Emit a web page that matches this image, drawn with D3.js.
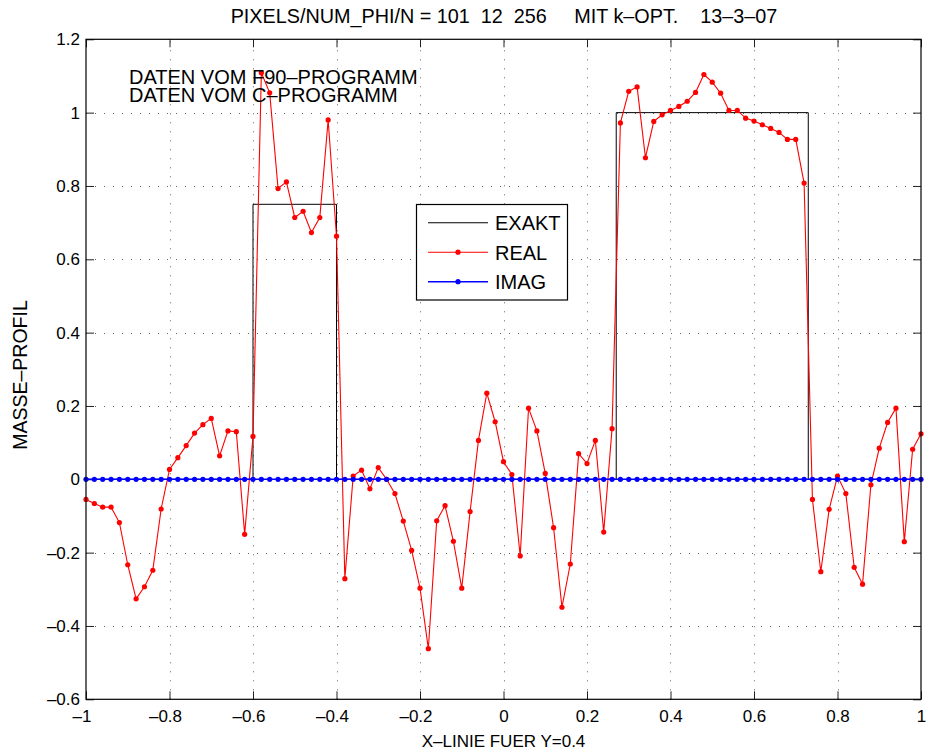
<!DOCTYPE html>
<html>
<head>
<meta charset="utf-8">
<script src="https://cdn.jsdelivr.net/npm/d3@7"></script>
<style>
  body { margin: 0; background: #fff; }
  text { font-family: "Liberation Sans", Arial, Helvetica, sans-serif; fill: #000; }
</style>
</head>
<body>
<div id="chart"></div>
<script>
// x grid of the line (101 pixels from -1 to 1)
let xValues = [
  -1.00, -0.98, -0.96, -0.94, -0.92, -0.90, -0.88, -0.86, -0.84, -0.82,
  -0.80, -0.78, -0.76, -0.74, -0.72, -0.70, -0.68, -0.66, -0.64, -0.62,
  -0.60, -0.58, -0.56, -0.54, -0.52, -0.50, -0.48, -0.46, -0.44, -0.42,
  -0.40, -0.38, -0.36, -0.34, -0.32, -0.30, -0.28, -0.26, -0.24, -0.22,
  -0.20, -0.18, -0.16, -0.14, -0.12, -0.10, -0.08, -0.06, -0.04, -0.02,
   0.00,  0.02,  0.04,  0.06,  0.08,  0.10,  0.12,  0.14,  0.16,  0.18,
   0.20,  0.22,  0.24,  0.26,  0.28,  0.30,  0.32,  0.34,  0.36,  0.38,
   0.40,  0.42,  0.44,  0.46,  0.48,  0.50,  0.52,  0.54,  0.56,  0.58,
   0.60,  0.62,  0.64,  0.66,  0.68,  0.70,  0.72,  0.74,  0.76,  0.78,
   0.80,  0.82,  0.84,  0.86,  0.88,  0.90,  0.92,  0.94,  0.96,  0.98,
   1.00
]
let realValues = [
  -0.055, -0.066, -0.076, -0.076, -0.118, -0.233, -0.326, -0.293, -0.248, -0.081,
   0.027,  0.059,  0.092,  0.126,  0.149,  0.166,  0.064,  0.132,  0.130, -0.150,
   0.117,  1.109,  1.054,  0.793,  0.811,  0.714,  0.731,  0.673,  0.714,  0.980,
   0.663, -0.271,  0.009,  0.025, -0.026,  0.032,  0.000, -0.039, -0.114, -0.194,
  -0.297, -0.462, -0.113, -0.072, -0.169, -0.297, -0.088,  0.106,  0.235,  0.157,
   0.048,  0.013, -0.209,  0.194,  0.132,  0.016, -0.132, -0.349, -0.231,  0.070,
   0.043,  0.106, -0.144,  0.138,  0.972,  1.058,  1.070,  0.877,  0.976,  0.994,
   1.006,  1.017,  1.031,  1.055,  1.104,  1.083,  1.053,  1.006,  1.006,  0.985,
   0.977,  0.967,  0.957,  0.946,  0.927,  0.927,  0.808, -0.055, -0.252, -0.082,
   0.009, -0.039, -0.240, -0.286, -0.015,  0.085,  0.155,  0.194, -0.170,  0.082,
   0.124
]
let imagValues = [
  0, 0, 0, 0, 0, 0, 0, 0, 0, 0,
  0, 0, 0, 0, 0, 0, 0, 0, 0, 0,
  0, 0, 0, 0, 0, 0, 0, 0, 0, 0,
  0, 0, 0, 0, 0, 0, 0, 0, 0, 0,
  0, 0, 0, 0, 0, 0, 0, 0, 0, 0,
  0, 0, 0, 0, 0, 0, 0, 0, 0, 0,
  0, 0, 0, 0, 0, 0, 0, 0, 0, 0,
  0, 0, 0, 0, 0, 0, 0, 0, 0, 0,
  0, 0, 0, 0, 0, 0, 0, 0, 0, 0,
  0, 0, 0, 0, 0, 0, 0, 0, 0, 0,
  0
]
// exact profile (step function)
let exaktX = [-1, -0.6, -0.6, -0.4, -0.4, 0.27, 0.27, 0.73, 0.73, 1]
let exaktY = [0, 0, 0.75, 0.75, 0, 0, 1, 1, 0, 0]

let xTicks = [-1, -0.8, -0.6, -0.4, -0.2, 0, 0.2, 0.4, 0.6, 0.8, 1]
let xTickLabels = ["\u20131", "\u20130.8", "\u20130.6", "\u20130.4", "\u20130.2", "0", "0.2", "0.4", "0.6", "0.8", "1"]
let yTicks = [-0.6, -0.4, -0.2, 0, 0.2, 0.4, 0.6, 0.8, 1, 1.2]
let yTickLabels = ["\u20130.6", "\u20130.4", "\u20130.2", "0", "0.2", "0.4", "0.6", "0.8", "1", "1.2"]

let legendNames = ["EXAKT", "REAL", "IMAG"]
let legendColors = ["#000000", "#ff0000", "#0000ff"]

let titleText = "PIXELS/NUM_PHI/N = 101  12  256     MIT k\u2013OPT.    13\u20133\u201307"
let noteLines = ["DATEN VOM F90\u2013PROGRAMM", "DATEN VOM C\u2013PROGRAMM"]

function drawChart() {
    let width = 926,
        height = 753
    let left = 86, right = 921, top = 39.3, bottom = 699.3
    let tickLen = 8

    let svg = d3.select("#chart").append("svg")
        .attr("width", width)
        .attr("height", height)

    svg.append("rect")
        .attr("width", width)
        .attr("height", height)
        .attr("fill", "#fff")

    let xScale = d3.scaleLinear().domain([-1, 1]).range([left, right])
    let yScale = d3.scaleLinear().domain([-0.6, 1.2]).range([bottom, top])

    // dotted grid
    let grid = svg.append("g")
        .attr("stroke", "#666")
        .attr("stroke-width", 1)
        .attr("stroke-dasharray", "1,8")
    grid.selectAll(".gx")
        .data(xTicks.slice(1, -1))
        .enter()
        .append("line")
        .attr("x1", function(d) { return Math.round(xScale(d)) + 0.5; })
        .attr("x2", function(d) { return Math.round(xScale(d)) + 0.5; })
        .attr("y1", bottom)
        .attr("y2", top)
    grid.selectAll(".gy")
        .data(yTicks.slice(1, -1))
        .enter()
        .append("line")
        .attr("y1", function(d) { return Math.round(yScale(d)) + 0.5; })
        .attr("y2", function(d) { return Math.round(yScale(d)) + 0.5; })
        .attr("x1", left)
        .attr("x2", right)

    // axes with inward ticks on all four sides
    let xAxis = d3.axisBottom(xScale)
        .tickValues(xTicks)
        .tickSize(-tickLen)
        .tickPadding(11)
        .tickFormat(function(d, i) { return xTickLabels[i]; })
    let gx = svg.append("g")
        .attr("transform", "translate(0," + bottom + ")")
        .call(xAxis)
    gx.selectAll("text")
        .attr("font-size", 17)
        .attr("dx", function(d) { return d < 0 ? -4.5 : 0; })

    let yAxis = d3.axisLeft(yScale)
        .tickValues(yTicks)
        .tickSize(-tickLen)
        .tickPadding(6)
        .tickFormat(function(d, i) { return yTickLabels[i]; })
    let gy = svg.append("g")
        .attr("transform", "translate(" + left + ",0)")
        .call(yAxis)
    gy.selectAll("text").attr("font-size", 17)

    svg.append("g")
        .attr("transform", "translate(0," + top + ")")
        .call(d3.axisTop(xScale).tickValues(xTicks).tickSize(-tickLen).tickFormat(""))
    svg.append("g")
        .attr("transform", "translate(" + right + ",0)")
        .call(d3.axisRight(yScale).tickValues(yTicks).tickSize(-tickLen).tickFormat(""))

    svg.selectAll(".domain").remove()
    svg.selectAll(".tick line").attr("stroke", "#222")
    svg.selectAll(".tick text").attr("fill", "#000").attr("font-family", "Liberation Sans, Arial, sans-serif")

    // EXAKT
    let line = d3.line()
        .x(function(d) { return xScale(d[0]); })
        .y(function(d) { return yScale(d[1]); })
    svg.append("path")
        .datum(exaktX.map(function(x, i) { return [x, exaktY[i]]; }))
        .attr("d", line)
        .attr("fill", "none")
        .attr("stroke", "#000")
        .attr("stroke-width", 1)

    // REAL
    let realData = xValues.map(function(x, i) { return [x, realValues[i]]; })
    svg.append("path")
        .datum(realData)
        .attr("d", line)
        .attr("fill", "none")
        .attr("stroke", "#ff0000")
        .attr("stroke-width", 1.1)
    svg.selectAll(".realDot")
        .data(realData)
        .enter()
        .append("circle")
        .attr("class", "realDot")
        .attr("cx", function(d) { return xScale(d[0]); })
        .attr("cy", function(d) { return yScale(d[1]); })
        .attr("r", 2.6)
        .attr("fill", "#ff0000")

    // IMAG
    let imagData = xValues.map(function(x, i) { return [x, imagValues[i]]; })
    svg.append("path")
        .datum(imagData)
        .attr("d", line)
        .attr("fill", "none")
        .attr("stroke", "#0000ff")
        .attr("stroke-width", 1.5)
    svg.selectAll(".imagDot")
        .data(imagData)
        .enter()
        .append("circle")
        .attr("class", "imagDot")
        .attr("cx", function(d) { return xScale(d[0]); })
        .attr("cy", function(d) { return yScale(d[1]); })
        .attr("r", 2.6)
        .attr("fill", "#0000ff")

    // box
    svg.append("rect")
        .attr("x", left)
        .attr("y", top)
        .attr("width", right - left)
        .attr("height", bottom - top)
        .attr("fill", "none")
        .attr("stroke", "#000")
        .attr("stroke-width", 1.2)

    // notes, one text block with two lines
    let note = svg.append("text")
        .attr("x", 129)
        .attr("y", 84)
        .attr("font-size", 20)
    note.selectAll("tspan")
        .data(noteLines)
        .enter()
        .append("tspan")
        .attr("x", 129)
        .attr("dy", function(d, i) { return i == 0 ? 0 : 17.7; })
        .text(function(d) { return d; })

    // legend
    let legend = svg.append("g")
    legend.append("rect")
        .attr("x", 416.5)
        .attr("y", 204.5)
        .attr("width", 151)
        .attr("height", 95.5)
        .attr("fill", "#fff")
        .attr("stroke", "#000")
        .attr("stroke-width", 1.2)
    let items = legend.selectAll(".item")
        .data(legendNames)
        .enter()
        .append("g")
        .attr("transform", function(d, i) { return "translate(0," + (222.7 + i * 29.5) + ")"; })
    items.append("line")
        .attr("x1", 428)
        .attr("x2", 488)
        .attr("stroke", function(d, i) { return legendColors[i]; })
        .attr("stroke-width", function(d, i) { return i == 2 ? 1.5 : 1.1; })
    items.filter(function(d, i) { return i > 0; })
        .append("circle")
        .attr("cx", 458)
        .attr("r", 2.6)
        .attr("fill", function(d) { return legendColors[legendNames.indexOf(d)]; })
    items.append("text")
        .attr("x", 495)
        .attr("y", 7.3)
        .attr("font-size", 20)
        .text(function(d) { return d; })

    // title and axis labels
    svg.append("text")
        .attr("x", 504)
        .attr("y", 23.3)
        .attr("text-anchor", "middle")
        .attr("font-size", 19.8)
        .style("white-space", "pre")
        .text(titleText)
    svg.append("text")
        .attr("x", 503.5)
        .attr("y", 747)
        .attr("text-anchor", "middle")
        .attr("font-size", 17)
        .text("X\u2013LINIE FUER Y=0.4")
    svg.append("text")
        .attr("transform", "translate(27,375) rotate(-90)")
        .attr("text-anchor", "middle")
        .attr("font-size", 19.5)
        .text("MASSE\u2013PROFIL")
}

drawChart()
</script>
</body>
</html>
